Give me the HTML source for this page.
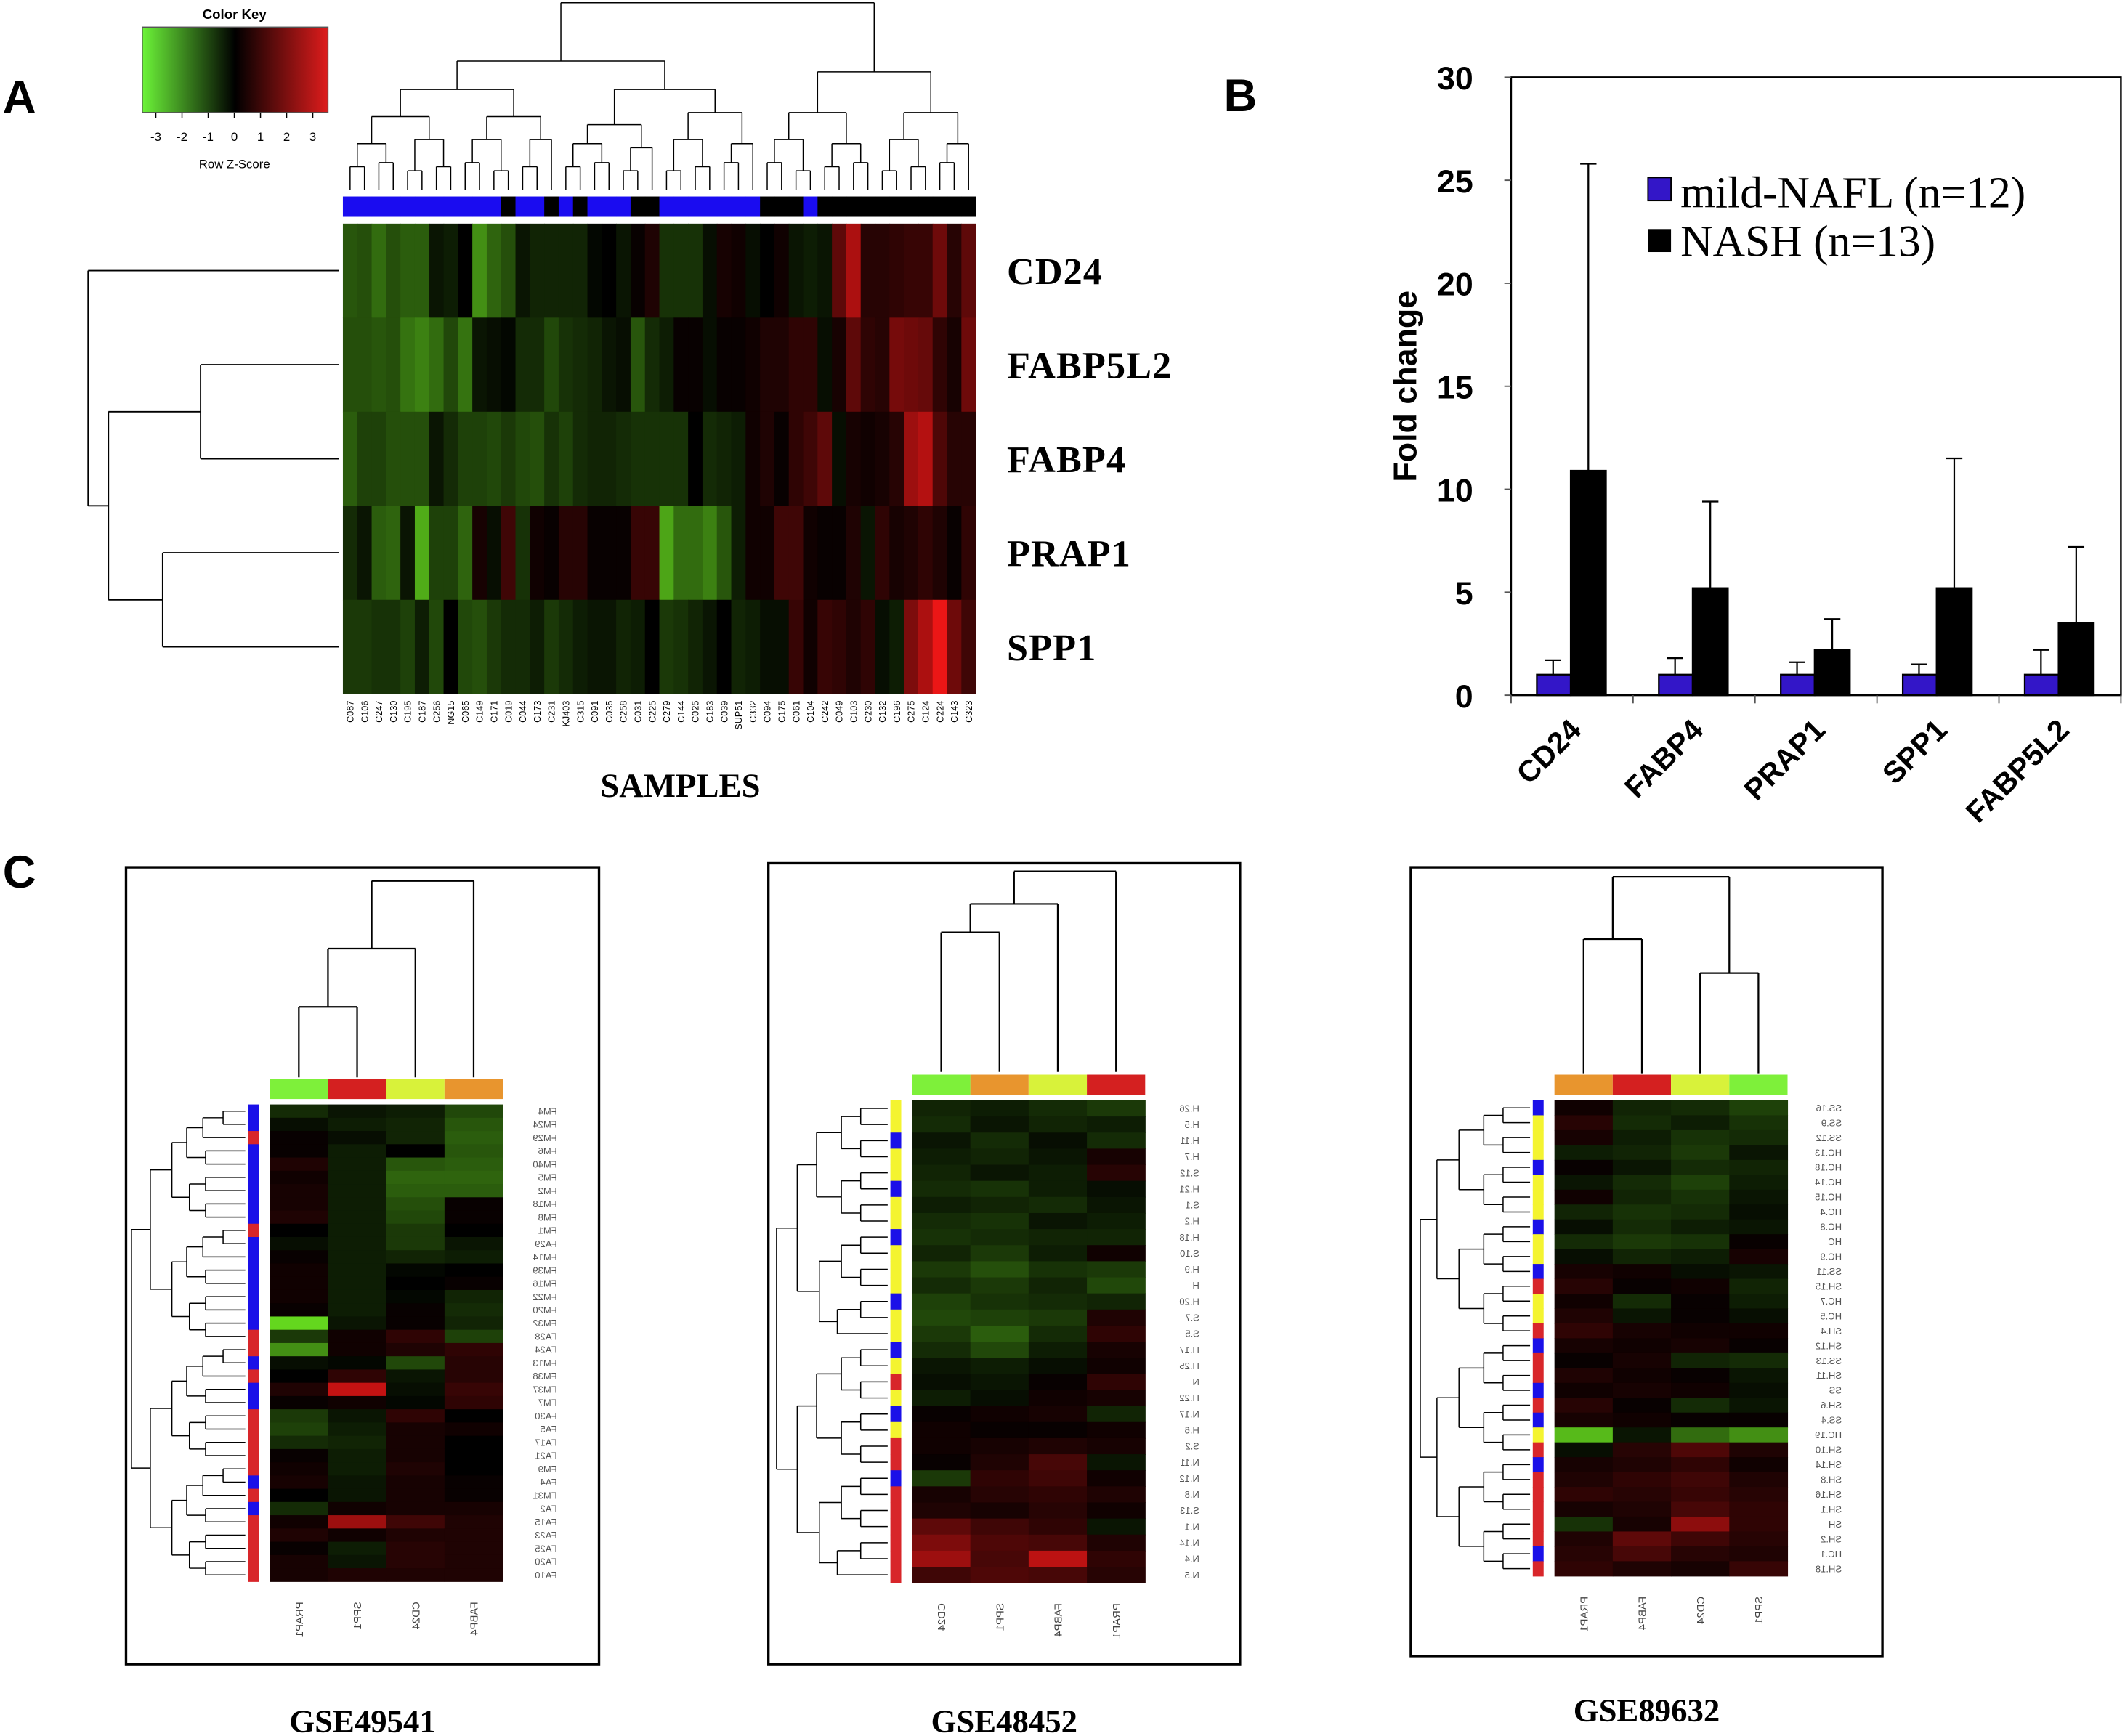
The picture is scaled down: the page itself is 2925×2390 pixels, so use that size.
<!DOCTYPE html>
<html><head><meta charset="utf-8"><style>
html,body{margin:0;padding:0;background:#fff;}
svg{display:block;}
</style></head><body>
<svg id="fig" xmlns="http://www.w3.org/2000/svg" width="2925" height="2390" viewBox="0 0 1568 1281" preserveAspectRatio="none" font-family="Liberation Sans, sans-serif">
<rect width="1568" height="1281" fill="#fff"/>
<text x="2" y="83" font-size="34" font-weight="bold">A</text>
<text x="903" y="82" font-size="34" font-weight="bold">B</text>
<text x="2" y="655" font-size="34" font-weight="bold">C</text>
<g id="pa"></g>
<g id="pb"></g>
<g id="pc"></g>
</svg>
<script>
// ---------- DATA ----------
const genesA = ["CD24","FABP5L2","FABP4","PRAP1","SPP1"];
const samplesA = ["C087","C106","C247","C130","C195","C187","C256","NG15","C065","C149","C171","C019","C044","C173","C231","KJ403","C315","C091","C035","C258","C031","C225","C279","C144","C025","C183","C039","SUP51","C332","C094","C175","C061","C104","C242","C049","C103","C230","C132","C196","C275","C124","C224","C143","C323"];
const groupA = [1,1,1,1,1,1,1,1,1,1,1,0,1,1,0,1,0,1,1,1,0,0,1,1,1,1,1,1,1,0,0,0,1,0,0,0,0,0,0,0,0,0,0,0];
const rowCD24 = [-1.2,-1.1,-1.5,-1.1,-1.3,-1.3,-0.3,-0.4,0,-2,-1.4,-1.1,-0.3,-0.5,-0.5,-0.5,-0.5,-0.1,0,-0.3,0.1,0.4,-0.7,-0.7,-0.7,-0.2,0.3,0.2,-0.2,0,0.2,-0.3,-0.4,-0.3,1.2,2.2,0.5,0.5,0.6,0.7,0.7,1.4,0.5,1.2];
const rowFABP5L2 = [-1.1,-1.1,-1.2,-1.1,-1.6,-1.8,-1.5,-1.0,-1.6,-0.3,-0.2,-0.1,-0.6,-0.6,-1,-0.7,-0.6,-0.5,-0.3,-0.2,-1.2,-0.6,-0.4,0.1,0.1,-0.2,0.1,0.1,0.2,0.4,0.4,0.6,0.6,-0.2,0.3,1.2,0.6,0.5,1.5,1.4,1.3,0.6,0.3,1.4];
const rowFABP4 = [-1.3,-0.9,-0.9,-1.1,-1.1,-1.1,-0.3,-0.6,-0.9,-0.9,-1.0,-0.8,-1.0,-1.1,-0.7,-0.9,-0.6,-0.5,-0.5,-0.6,-0.7,-0.7,-0.7,-0.7,0,-0.6,-0.5,-0.4,0.2,0.4,0.1,0.6,0.8,1.2,-0.2,0.3,0.2,0.3,0.5,2.0,2.3,1.0,0.5,0.5];
const rowPRAP1 = [-0.6,-0.3,-1.3,-1.4,-0.3,-2.4,-0.9,-0.9,-1.4,0.3,-0.2,0.8,-0.7,0.2,0.1,0.5,0.5,0.1,0.1,0.1,0.7,0.7,-2.3,-1.5,-1.5,-1.8,-1.2,-0.4,0.2,0.2,0.8,0.8,0.2,0.1,0.1,0.4,-0.3,0.6,0.3,0.4,0.6,0.4,0.1,0.6];
const rowSPP1 = [-0.8,-0.8,-0.7,-0.7,-0.9,-0.4,-1,0,-1,-1.1,-0.8,-0.6,-0.6,-0.4,-0.8,-0.6,-0.4,-0.3,-0.3,-0.5,-0.4,0,-0.8,-0.7,-0.5,-0.3,0,-0.5,-0.4,-0.2,-0.2,0.7,0.2,0.7,0.6,0.4,0.6,-0.2,-0.4,1.6,2.2,3.0,1.4,0.8];

const barCats = ["CD24","FABP4","PRAP1","SPP1","FABP5L2"];
const naflVals = [1,1,1,1,1];
const naflErr = [1.7,1.8,1.6,1.5,2.2];
const nashVals = [10.9,5.2,2.2,5.2,3.5];
const nashErr = [25.8,9.4,3.7,11.5,7.2];
const yTicks = [0,5,10,15,20,25,30];

const c1Cols = ["PRAP1","SPP1","CD24","FABP4"];
const c1Rows = ["FM4","FM24","FM29","FM6","FM40","FM5","FM2","FM18","FM8","FM1","FA29","FM14","FM39","FM16","FM22","FM20","FM32","FA28","FA24","FM13","FM38","FM37","FM7","FA30","FA5","FA17","FA21","FM9","FA4","FM31","FA2","FA15","FA23","FA25","FA20","FA10"];
const c1Groups = ["b","b","r","b","b","b","b","b","b","r","b","b","b","b","b","b","b","r","r","b","r","b","b","r","r","r","r","r","b","r","b","r","r","r","r","r"];
const c1Vals = [[-0.6,-0.3,-0.4,-1.0],[-0.2,-0.4,-0.5,-1.2],[0.1,-0.2,-0.5,-1.3],[0.1,-0.4,0,-1.2],[0.4,-0.4,-1.2,-1.3],[0.2,-0.4,-1.4,-1.4],[0.3,-0.4,-1.3,-1.3],[0.3,-0.4,-1.1,0.1],[0.4,-0.4,-1.0,0.1],[0,-0.4,-0.8,0],[-0.2,-0.4,-0.8,-0.3],[0.1,-0.4,-0.5,-0.4],[0.2,-0.4,-0.1,0],[0.2,-0.4,0,0.1],[0.2,-0.4,-0.1,-0.5],[0.1,-0.4,0.1,-0.6],[-3,-0.3,0.1,-0.5],[-0.8,0.2,0.6,-0.9],[-2,0.2,0.4,0.6],[-0.2,-0.1,-1.0,0.5],[0,0.6,-0.3,0.5],[0.4,2.5,-0.2,0.7],[0.1,0.2,-0.1,0.6],[-0.8,-0.3,0.6,0],[-0.9,-0.4,0.3,0.2],[-0.6,-0.5,0.3,0],[0.1,-0.4,0.3,0],[0.2,-0.4,0.4,0],[0.3,-0.3,0.3,0.1],[0,-0.3,0.3,0.1],[-0.6,0.2,0.3,0.3],[0.2,2.0,0.8,0.4],[0.4,0.2,0.4,0.4],[0.1,-0.4,0.5,0.4],[0.3,-0.3,0.5,0.4],[0.3,0.4,0.4,0.4]];
const c1Bar = ["#7ef03a","#d42020","#d8f23a","#e8952e"];

const c2Cols = ["CD24","SPP1","FABP4","PRAP1"];
const c2Rows = ["H.26","H.5","H.11","H.7","S.12","H.21","S.1","H.2","H.18","S.10","H.9","H","H.20","S.7","S.5","H.17","H.25","N","H.22","N.17","H.6","S.2","N.11","N.12","N.8","S.13","N.1","N.14","N.4","N.5"];
const c2Groups = ["y","y","b","y","y","b","y","y","b","y","y","y","b","y","y","b","y","r","y","b","y","r","r","b","r","r","r","r","r","r"];
const c2Vals = [[-0.5,-0.4,-0.6,-0.8],[-0.6,-0.3,-0.5,-0.4],[-0.3,-0.6,-0.2,-0.6],[-0.4,-0.5,-0.3,0.3],[-0.5,-0.3,-0.4,0.5],[-0.6,-0.7,-0.4,-0.2],[-0.4,-0.5,-0.6,-0.3],[-0.6,-0.7,-0.3,-0.4],[-0.7,-0.6,-0.5,-0.5],[-0.5,-0.8,-0.4,0.2],[-0.8,-1.1,-0.7,-0.8],[-0.6,-0.8,-0.5,-1.0],[-0.9,-0.7,-0.6,-0.5],[-1.0,-0.9,-0.8,0.4],[-0.8,-1.3,-0.6,0.6],[-0.6,-1.0,-0.4,0.3],[-0.3,-0.4,-0.2,0.2],[-0.2,-0.3,0.1,0.6],[-0.4,-0.2,0.2,0.3],[0.1,0.2,0.3,-0.5],[0.2,0.1,0.1,0.2],[0.2,0.3,0.4,0.3],[0.1,0.4,0.9,-0.3],[-0.8,0.6,0.8,0.2],[0.3,0.5,0.6,0.4],[0.4,0.3,0.5,0.2],[1.2,0.8,0.6,-0.3],[1.6,1.0,0.9,0.4],[2.0,0.9,2.4,0.6],[0.8,1.0,0.9,0.5]];
const c2Bar = ["#7ef03a","#e8952e","#d8f23a","#d42020"];

const c3Cols = ["PRAP1","FABP4","CD24","SPP1"];
const c3Rows = ["SS.16","SS.9","SS.12","HC.13","HC.18","HC.14","HC.15","HC.4","HC.8","HC","HC.9","SS.11","SH.15","HC.7","HC.5","SH.4","SH.12","SS.13","SH.11","SS","SH.6","SS.4","HC.19","SH.10","SH.14","SH.8","SH.16","SH.1","SH","SH.2","HC.1","SH.18"];
const c3Groups = ["b","y","y","y","b","y","y","y","b","y","y","b","r","y","y","r","b","r","r","b","r","b","y","r","b","r","r","r","r","r","b","r"];
const c3Vals = [[0.2,-0.5,-0.6,-0.9],[0.5,-0.6,-0.4,-0.7],[0.3,-0.4,-0.7,-0.6],[-0.4,-0.5,-0.8,-0.3],[0.1,-0.3,-0.6,-0.5],[-0.3,-0.6,-0.9,-0.4],[0.2,-0.5,-0.7,-0.3],[-0.5,-0.7,-0.6,-0.2],[-0.2,-0.6,-0.4,-0.3],[-0.6,-0.8,-0.7,0.1],[-0.2,-0.5,-0.4,0.3],[0.3,0.2,-0.2,-0.3],[0.5,0.1,0.2,-0.5],[0.2,-0.6,0.1,-0.4],[0.4,-0.3,0.1,-0.2],[0.6,0.3,0.2,0.2],[0.3,0.2,0.3,0.1],[0.1,0.3,-0.5,-0.6],[0.4,0.2,0.1,-0.3],[0.2,0.3,0.2,-0.2],[0.5,0.1,-0.6,-0.3],[0.3,0.2,0.1,0.1],[-2.6,-0.3,-1.5,-2.0],[-0.2,0.5,1.0,0.4],[0.3,0.4,0.6,0.2],[0.4,0.6,0.8,0.4],[0.6,0.5,0.7,0.5],[0.3,0.4,0.9,0.6],[-0.7,0.3,1.8,0.6],[0.4,1.2,0.8,0.5],[0.5,0.9,0.5,0.4],[0.6,0.4,0.3,0.7]];
const c3Bar = ["#e8952e","#d42020","#d8f23a","#7ef03a"];

// ---------- HELPERS ----------
const NS = "http://www.w3.org/2000/svg";
function mk(parent, tag, attrs, txt){ const e=document.createElementNS(NS,tag); for(const k in attrs) e.setAttribute(k,attrs[k]); if(txt!==undefined) e.textContent=txt; parent.appendChild(e); return e; }
function zcol(z){ if(z>=0){ const t=Math.min(z/3,1); return `rgb(${Math.round(235*t)},${Math.round(22*t)},${Math.round(22*t)})`; } const t=Math.min(-z/3,1); return `rgb(${Math.round(100*t)},${Math.round(215*t)},${Math.round(30*t)})`; }
function ln(p,x1,y1,x2,y2,w,c){ const l=mk(p,"line",{x1,y1,x2,y2,stroke:c||"#000","stroke-width":w||1});   return l; }
function rowDendro(p, n, y0, h, xLeaf, xRoot){
  let maxD=Math.ceil(Math.log2(n));
  function rec(lo,hi,d){
    if(lo===hi) return {x:xLeaf, y:y0+(lo+0.5)*h};
    const mid=Math.floor((lo+hi)/2);
    const a=rec(lo,mid,d+1), b=rec(mid+1,hi,d+1);
    const x = xRoot + (xLeaf-xRoot)*(d/(maxD+0.5)) + ((lo*7+hi*3)%5);
    ln(p,x,a.y,a.x,a.y,0.8); ln(p,x,b.y,b.x,b.y,0.8); ln(p,x,a.y,x,b.y,0.8);
    return {x, y:(a.y+b.y)/2};
  }
  rec(0,n-1,0);
}

// ---------- PANEL A ----------
(function(){
  const g=document.getElementById('pa');
  const defs=mk(g,"defs",{});
  const lg=mk(defs,"linearGradient",{id:"ck",x1:"0",x2:"1",y1:"0",y2:"0"});
  mk(lg,"stop",{offset:"0","stop-color":"#6cf438"});
  mk(lg,"stop",{offset:"0.5","stop-color":"#000"});
  mk(lg,"stop",{offset:"1","stop-color":"#de1c1c"});
  const key=mk(g,"rect",{x:105,y:20,width:137,height:63,fill:"url(#ck)",stroke:"#555","stroke-width":0.8});
   
  mk(g,"text",{x:173,y:14,"font-size":10,"font-weight":"bold","text-anchor":"middle"},"Color Key");
  [-3,-2,-1,0,1,2,3].forEach((v,i)=>{ const x=115+i*19.3; ln(g,x,83,x,87,0.8); mk(g,"text",{x,y:104,"font-size":9,"text-anchor":"middle"},String(v)); });
  mk(g,"text",{x:173,y:124,"font-size":9,"text-anchor":"middle"},"Row Z-Score");

  const X0=253, X1=720, Y0=165, Y1=512, n=samplesA.length, cw=(X1-X0)/n, rh=(Y1-Y0)/5;
  const rows=[rowCD24,rowFABP5L2,rowFABP4,rowPRAP1,rowSPP1];
  rows.forEach((r,ri)=>r.forEach((v,ci)=>{ const c=mk(g,"rect",{x:X0+ci*cw,y:Y0+ri*rh,width:cw+0.4,height:rh+0.4,fill:zcol(v)});
      }));
  groupA.forEach((gv,ci)=>{ const c=mk(g,"rect",{x:X0+ci*cw,y:145,width:cw+0.4,height:15,fill:gv?"#1a0cf0":"#000"});
      });
  genesA.forEach((gn,i)=>{ const t=mk(g,"text",{x:743,y:Y0+(i+0.5)*rh+10,"font-size":28,"font-weight":"bold","letter-spacing":"0.6","font-family":"Liberation Serif, serif"},gn);
      });
  samplesA.forEach((s,i)=>{ const x=X0+(i+0.5)*cw+2.5; const t=mk(g,"text",{x,y:517,"font-size":6.8,"text-anchor":"end",transform:`rotate(-90 ${x} 517)`},s);
      });
  mk(g,"text",{x:502,y:588,"font-size":25,"font-weight":"bold","font-family":"Liberation Serif, serif","text-anchor":"middle"},"SAMPLES");
  function rec(lo,hi,d){
    if(lo===hi) return {x:X0+(lo+0.5)*cw, y:140};
    let mid=Math.floor((lo+hi)/2); if(d===0) mid=28;
    const a=rec(lo,mid,d+1), b=rec(mid+1,hi,d+1);
    let y = d===0 ? 2 : Math.min(a.y,b.y) - (d===1?30:14) - ((lo+hi)%3)*3;
    if(d===1) y=Math.max(y,45);
    ln(g,a.x,y,a.x,a.y,0.8); ln(g,b.x,y,b.x,b.y,0.8); ln(g,a.x,y,b.x,y,0.8);
    return {x:(a.x+b.x)/2, y};
  }
  rec(0,n-1,0);
  const yc=i=>Y0+(i+0.5)*rh;
  ln(g,148,yc(1),250,yc(1)); ln(g,148,yc(2),250,yc(2)); ln(g,148,yc(1),148,yc(2));
  ln(g,120,yc(3),250,yc(3)); ln(g,120,yc(4),250,yc(4)); ln(g,120,yc(3),120,yc(4));
  const m1=(yc(1)+yc(2))/2, m2=(yc(3)+yc(4))/2;
  ln(g,80,m1,148,m1); ln(g,80,m2,120,m2); ln(g,80,m1,80,m2);
  const m3=(m1+m2)/2;
  ln(g,65,yc(0),250,yc(0)); ln(g,65,m3,80,m3); ln(g,65,yc(0),65,m3);
})();

// ---------- PANEL B ----------
(function(){
  const g=document.getElementById('pb');
  const L=1115,R=1565,B=513,T=57;
  const y=v=>B-(v/30)*(B-T);
  const step=(R-L)/barCats.length;
  mk(g,"rect",{x:L,y:T,width:R-L,height:B-T,fill:"none",stroke:"#000","stroke-width":1.3});
  yTicks.forEach(v=>{ ln(g,L-5,y(v),L,y(v),1,"#555");
    const t=mk(g,"text",{x:1087,y:y(v)+9,"font-size":24,"font-weight":"bold","text-anchor":"end"},String(v));
      });
  for(let i=0;i<=barCats.length;i++) ln(g,L+i*step,B,L+i*step,B+6,1,"#555");
  const yt=mk(g,"text",{x:1045,y:285,"font-size":24,"font-weight":"bold","text-anchor":"middle",transform:"rotate(-90 1045 285)"},"Fold change");
   
  barCats.forEach((c,i)=>{
    const cx=L+(i+0.5)*step;
    const bx1=cx-26, bx2=cx-1;
    const e1=mk(g,"line",{x1:bx1+12,x2:bx1+12,y1:y(naflVals[i]),y2:y(naflErr[i]),stroke:"#000","stroke-width":1.2});
     
    ln(g,bx1+6,y(naflErr[i]),bx1+18,y(naflErr[i]),1.2);
    const e2=mk(g,"line",{x1:bx2+13,x2:bx2+13,y1:y(nashVals[i]),y2:y(nashErr[i]),stroke:"#000","stroke-width":1.2});
     
    ln(g,bx2+7,y(nashErr[i]),bx2+19,y(nashErr[i]),1.2);
    const r1=mk(g,"rect",{x:bx1,y:y(naflVals[i]),width:25,height:B-y(naflVals[i]),fill:"#3316c8",stroke:"#000","stroke-width":1.2});
     
    const r2=mk(g,"rect",{x:bx2,y:y(nashVals[i]),width:26,height:B-y(nashVals[i]),fill:"#000",stroke:"#000","stroke-width":1.2});
     
    const tx=cx+8, ty=540;
    const t=mk(g,"text",{x:tx,y:ty,"font-size":22,"font-weight":"bold","text-anchor":"end",transform:`rotate(-45 ${tx} ${ty})`},c);
     
  });
  const l1=mk(g,"rect",{x:1216,y:131,width:17,height:17,fill:"#3316c8",stroke:"#000","stroke-width":1});
   
  mk(g,"text",{x:1240,y:153,"font-size":33,"font-family":"Liberation Serif, serif"},"mild-NAFL (n=12)");
  const l2=mk(g,"rect",{x:1216,y:169,width:17,height:17,fill:"#000"});
   
  mk(g,"text",{x:1240,y:189,"font-size":33,"font-family":"Liberation Serif, serif"},"NASH (n=13)");
})();

// ---------- PANEL C ----------
function smallHeat(cfg){
  const g=mk(document.getElementById('pc'),"g",{});
   
  const box=mk(g,"rect",{x:cfg.bx,y:cfg.by,width:cfg.bw,height:cfg.bh,fill:"#fff",stroke:"#000","stroke-width":1.8});
   
  const n=cfg.vals.length, cw=(cfg.x1-cfg.x0)/4, rh=(cfg.y1-cfg.y0)/n;
  cfg.vals.forEach((r,ri)=>r.forEach((v,ci)=>{ const c=mk(g,"rect",{x:cfg.x0+ci*cw,y:cfg.y0+ri*rh,width:cw+0.3,height:rh+0.3,fill:zcol(v)});
      }));
  cfg.bar.forEach((col,ci)=>{ const c=mk(g,"rect",{x:cfg.x0+ci*cw,y:cfg.y0-19,width:cw,height:15,fill:col});
      });
  const gc={b:"#1a10e8",r:"#d8262a",y:"#f4f430"};
  cfg.groups.forEach((gv,ri)=>{ const c=mk(g,"rect",{x:cfg.x0-16,y:cfg.y0+ri*rh,width:8,height:rh+0.3,fill:gc[gv]});
      });
  cfg.rows.forEach((lab,ri)=>{ const x=cfg.x1+10, yy=cfg.y0+(ri+0.5)*rh+2.5;
    const t=mk(g,"text",{x:-x-30,y:yy,"font-size":7,fill:"#555",transform:"scale(-1,1)"},lab);
      });
  cfg.cols.forEach((lab,ci)=>{ const x=cfg.x0+(ci+0.5)*cw, yy=cfg.y1+15;
    const t=mk(g,"text",{x:0,y:0,"font-size":8,fill:"#444",transform:`translate(${x+3} ${yy}) rotate(90) scale(1,-1)`},lab);
      });
  cfg.cd.forEach(seg=>{ ln(g,seg[0],seg[1],seg[2],seg[3],1.2); });
  rowDendro(g,n,cfg.y0,rh,cfg.x0-18,cfg.bx+4);
  const tt=mk(g,"text",{x:cfg.bx+cfg.bw/2,y:cfg.ty,"font-size":24,"font-weight":"bold","font-family":"Liberation Serif, serif","text-anchor":"middle"},cfg.title);
   
}
const X=(x0,i)=>x0+(i+0.5)*((172)/4);
(function(){
  const x0=199, b=795, p=i=>X(x0,i);
  const m12=(p(0)+p(1))/2, m123=(m12+p(2))/2;
  smallHeat({title:"GSE49541",bx:93,by:640,bw:349,bh:588,x0:199,x1:371,y0:815,y1:1167,ty:1278,
    vals:c1Vals,rows:c1Rows,cols:c1Cols,groups:c1Groups,bar:c1Bar,
    cd:[[p(0),743,p(0),b],[p(1),743,p(1),b],[p(0),743,p(1),743],[m12,743,m12,700],[p(2),700,p(2),b],[m12,700,p(2),700],
        [m123,700,m123,650],[p(3),650,p(3),b],[m123,650,p(3),650]]});
})();
(function(){
  const x0=673, b=791, p=i=>X(x0,i);
  const m12=(p(0)+p(1))/2, m123=(m12+p(2))/2;
  smallHeat({title:"GSE48452",bx:567,by:637,bw:348,bh:591,x0:673,x1:845,y0:812,y1:1168,ty:1278,
    vals:c2Vals,rows:c2Rows,cols:c2Cols,groups:c2Groups,bar:c2Bar,
    cd:[[p(0),688,p(0),b],[p(1),688,p(1),b],[p(0),688,p(1),688],[m12,688,m12,667],[p(2),667,p(2),b],[m12,667,p(2),667],
        [m123,667,m123,643],[p(3),643,p(3),b],[m123,643,p(3),643]]});
})();
(function(){
  const x0=1147, b=792, p=i=>X(x0,i);
  const m12=(p(0)+p(1))/2, m34=(p(2)+p(3))/2;
  smallHeat({title:"GSE89632",bx:1041,by:640,bw:348,bh:582,x0:1147,x1:1319,y0:812,y1:1163,ty:1270,
    vals:c3Vals,rows:c3Rows,cols:c3Cols,groups:c3Groups,bar:c3Bar,
    cd:[[p(0),693,p(0),b],[p(1),693,p(1),b],[p(0),693,p(1),693],[p(2),718,p(2),b],[p(3),718,p(3),b],[p(2),718,p(3),718],
        [m12,647,m12,693],[m34,647,m34,718],[m12,647,m34,647]]});
})();
</script>
</body></html>
